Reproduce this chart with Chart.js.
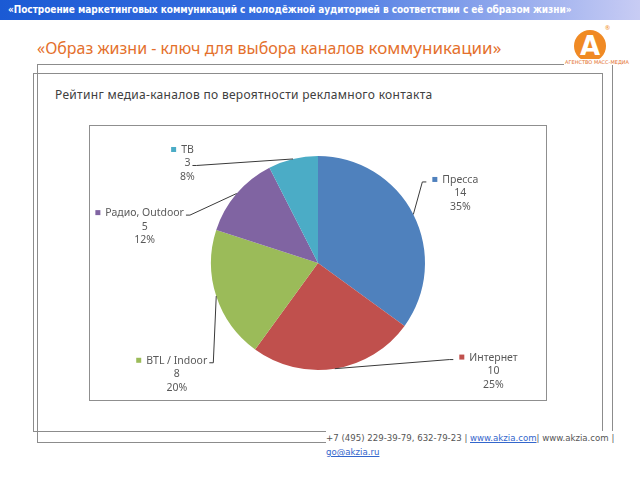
<!DOCTYPE html>
<html>
<head>
<meta charset="utf-8">
<script src="https://cdn.jsdelivr.net/npm/chart.js@4/dist/chart.umd.min.js"></script>
<style>
  html, body { margin: 0; padding: 0; background: #fff; }
  body { width: 640px; height: 480px; position: relative; overflow: hidden; font-family: "Noto Sans", sans-serif; }
  .banner {
    position: absolute; left: 0; top: 0; width: 640px; height: 20px;
    background: linear-gradient(to right, #1b5ad4 0%, #3a70e0 45%, #c8ccf4 100%);
    color: #fff; font: bold 10px "DejaVu Sans Condensed", sans-serif; line-height: 20px;
    padding-left: 8px; box-sizing: border-box; white-space: nowrap; letter-spacing: -0.05px;
  }
  .title {
    position: absolute; left: 37px; top: 36px; color: #e4702c;
    font: 16px "Noto Sans", sans-serif; white-space: nowrap;
  }
  .title span { font-size: 17px; }
  .logo {
    position: absolute; left: 574px; top: 30px; width: 32px; height: 32px; border-radius: 50%;
    background: #f08a24; color: #fff; font: bold 26px "DejaVu Sans", sans-serif;
    text-align: center; line-height: 33px;
  }
  .logo-reg { position: absolute; left: 605px; top: 24px; font-size: 6px; color: #f08a24; }
  .logo-sub { position: absolute; left: 564px; top: 59px; font: 5px "DejaVu Sans", sans-serif; color: #e4702c; background: #fff; padding: 0 1px; white-space: nowrap; }
  .frame { position: absolute; border: 1.5px solid #8c8c8c; box-sizing: border-box; }
  .subtitle {
    position: absolute; left: 55px; top: 86px; color: #404040;
    font: 12px "Noto Sans", sans-serif; white-space: nowrap; letter-spacing: 0.3px;
  }
  .chartbox { position: absolute; left: 89px; top: 125px; width: 458px; height: 276px; border: 1px solid #8f8f8f; box-sizing: border-box; }
  .footer {
    position: absolute; left: 326px; top: 431px; background: #fff; color: #555;
    font: 8.6px "DejaVu Sans", sans-serif; line-height: 14px; white-space: nowrap; padding-right: 1px;
  }
  .footer a { color: #3366cc; text-decoration: underline; }
</style>
</head>
<body>
<div class="banner">«Построение маркетинговых коммуникаций с молодёжной аудиторией в соответствии с её образом жизни»</div>
<div class="title">«Образ жизни - ключ для выбора каналов <span>коммуникации»</span></div>

<div class="frame" style="left:37px; top:64px; width:576px; height:379px;"></div>
<div class="frame" style="left:33px; top:73px; width:570px; height:359px;"></div>

<div class="logo">A</div>
<div class="logo-reg">®</div>
<div class="logo-sub">АГЕНСТВО МАСС-МЕДИА</div>

<div class="subtitle">Рейтинг медиа-каналов по вероятности рекламного контакта</div>
<div class="chartbox"><canvas id="pieChart" width="456" height="274"></canvas></div>

<div class="footer">+7 (495) 229-39-79, 632-79-23 | <a>www.akzia.com</a>| www.akzia.com |<br><a>go@akzia.ru</a></div>

<script>
var categories = ['Пресса', 'Интернет', 'BTL / Indoor', 'Радио, Outdoor', 'ТВ'];
var values = [14, 10, 8, 5, 3];
var percentLabels = ['35%', '25%', '20%', '12%', '8%'];

var sliceColors = ['#4f81bd', '#c0504d', '#9bbb59', '#8064a2', '#4bacc6'];

// label centre offsets, in pie radii from the pie centre, and which text row the leader meets
var labelOffsets = [[1.33, -0.65], [1.64, 1.01], [-1.32, 1.04], [-1.62, -0.34], [-1.22, -0.93]];
var anchorRows = [0, 0, 0, 0, 1];

var pieChart = $('pieChart');

function $(id) {
    return document.getElementById(id);
}

var sliceLabels = {
    id: 'sliceLabels',
    afterDatasetsDraw: function (chart) {
        var ctx = chart.ctx,
            meta = chart.getDatasetMeta(0),
            lineH = 13.5;

        ctx.save();
        ctx.font = '10.5px "Noto Sans", sans-serif';
        ctx.textBaseline = 'middle';
        ctx.textAlign = 'center';

        meta.data.forEach(function (arc, i) {
            var p = arc.getProps(['x', 'y', 'startAngle', 'endAngle', 'outerRadius'], true),
                mid = (p.startAngle + p.endAngle) / 2,
                ex = p.x + Math.cos(mid) * p.outerRadius,
                ey = p.y + Math.sin(mid) * p.outerRadius,
                cx = p.x + labelOffsets[i][0] * p.outerRadius,
                cy = p.y + labelOffsets[i][1] * p.outerRadius,
                lines = [categories[i], String(values[i]), percentLabels[i]],
                nameW = ctx.measureText(lines[0]).width,
                row = anchorRows[i],
                ay = cy + (row - 1) * lineH + 2,
                ax, bx;

            if (labelOffsets[i][0] > 0) {
                ax = cx - nameW / 2 - 16;
                bx = ax - 4;
            } else {
                ax = cx + ctx.measureText(lines[row]).width / 2 + 2;
                bx = ax + 4;
            }

            // leader line
            ctx.strokeStyle = '#3a3a3a';
            ctx.lineWidth = 1;
            ctx.beginPath();
            ctx.moveTo(ex, ey);
            ctx.lineTo(bx, ay);
            ctx.lineTo(ax, ay);
            ctx.stroke();

            // marker
            ctx.fillStyle = sliceColors[i];
            ctx.fillRect(cx - nameW / 2 - 10, cy - lineH - 3, 5, 5);

            ctx.fillStyle = '#595959';
            lines.forEach(function (t, k) {
                ctx.fillText(t, cx, cy + (k - 1) * lineH);
            });
        });
        ctx.restore();
    }
};

new Chart(pieChart, {
    type: 'pie',
    data: {
        labels: categories,
        datasets: [{
            data: values,
            backgroundColor: sliceColors,
            borderWidth: 0
        }]
    },
    options: {
        responsive: false,
        animation: false,
        layout: { padding: 30 },
        plugins: {
            legend: { display: false },
            tooltip: { enabled: false }
        }
    },
    plugins: [sliceLabels]
});
</script>
</body>
</html>
